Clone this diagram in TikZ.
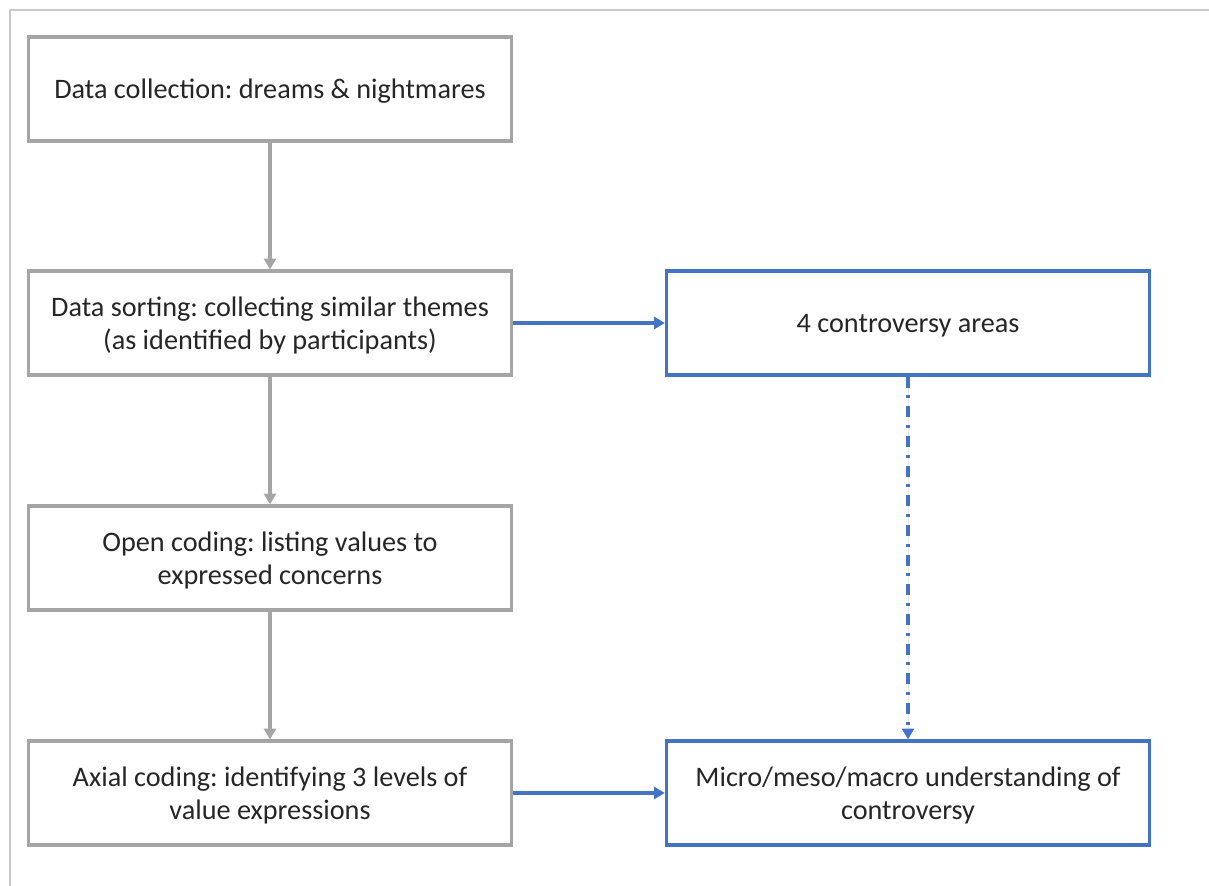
\documentclass[tikz,border=0pt]{standalone}
\usepackage{fontspec}
\setmainfont{Carlito}
\usepackage{xcolor}
\usetikzlibrary{arrows.meta}
\definecolor{boxgray}{RGB}{165,165,165}
\definecolor{framegray}{RGB}{200,200,200}
\definecolor{codeblue}{RGB}{68,114,196}
\frenchspacing
\tikzset{
  stagebox/.style={draw=boxgray,line width=1.3pt,minimum width=202pt,minimum height=43.5pt,
    inner sep=0pt,align=center,font=\fontsize{11.8}{13.6}\selectfont,text=black!85,
    text depth=0pt},
  resultbox/.style={stagebox,draw=codeblue},
  flowgray/.style={-{Triangle[length=4.5pt,width=5pt]},draw=boxgray,fill=boxgray,line width=1.3pt},
  flowblue/.style={-{Triangle[length=4.5pt,width=5pt]},draw=codeblue,fill=codeblue,line width=1.3pt},
}
\begin{document}
\begin{tikzpicture}[x=0.418pt,y=-0.418pt]
		% FRAME
		\useasboundingbox (0,0) rectangle (1209,886);
		\fill [white] (0,0) rectangle (1209,886);
		\draw [framegray,line width=0.8pt] (10,886) -- (10,10) -- (1209,10);
		% LEFT COLUMN
		\node [stagebox] (collect) at (270,89) {Data collection: dreams \& nightmares};
		\node [stagebox] (sort) at (270,323) {Data sorting: collecting similar themes\\(as identified by participants)};
		\node [stagebox] (open) at (270,558) {Open coding: listing values to\\expressed concerns};
		\node [stagebox] (axial) at (270,793) {Axial coding: identifying 3 levels of\\value expressions};
		% RIGHT COLUMN
		\node [resultbox] (areas) at (908,323) {4 controversy areas};
		\node [resultbox] (levels) at (908,793) {Micro/meso/macro understanding of\\controversy};
		% ARROWS
		\draw [flowgray] (collect) -- (sort);
		\draw [flowgray] (sort) -- (open);
		\draw [flowgray] (open) -- (axial);
		\draw [flowblue] (sort) -- (areas);
		\draw [flowblue] (axial) -- (levels);
		\draw [flowblue,dash pattern=on 4.6pt off 3.3pt on 1.2pt off 3.3pt] (areas) -- (levels);
		\end{tikzpicture}
\end{document}
